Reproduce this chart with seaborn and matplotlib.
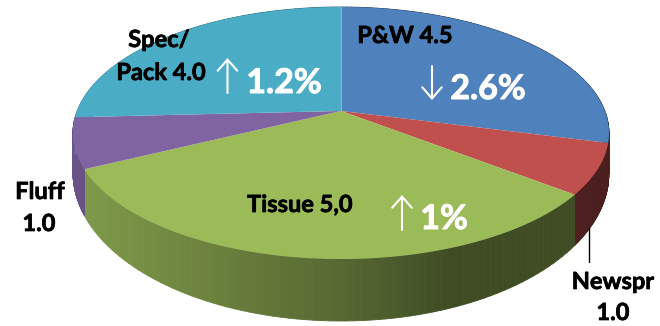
import numpy as np
import matplotlib
matplotlib.use("Agg")
import matplotlib.pyplot as plt
import matplotlib.patheffects as pe
import seaborn as sns
from matplotlib.collections import PolyCollection
from matplotlib.path import Path
from matplotlib.transforms import Affine2D, Transform

# Paper grades and their tonnage shares
grades = ["P&W", "Newspr", "Tissue", "Fluff", "Spec/Pack"]
tonnage = [4.5, 1.0, 5.0, 1.0, 4.0]
grade_colors = ["#4F81BD", "#C0504D", "#9BBB59", "#8064A2", "#4BACC6"]

# Labels: (text, centre x, baseline y)
black_labels = [
    ("Spec/", 159, 47),
    ("Pack 4.0", 161, 80),
    ("P&W 4.5", 405, 43),
    ("Tissue 5,0", 300, 212),
    ("Fluff", 40, 199),
    ("1.0", 39, 231),
    ("Newspr", 613, 289),
    ("1.0", 613, 320),
]
change_labels = [("1.2%", 284, 93), ("2.6%", 488, 99), ("1%", 444, 229)]
# Trend arrows: (x, tail y, tip y)
trend_arrows = [(227.5, 93, 58), (432, 66, 100), (402, 230, 195)]

# Geometry of the tilted disc, in pixels
CX, RX = 341, 268
TOP_CY, TOP_RY = 133, 126
BOTTOM_CY, BOTTOM_RY = 173, 148
TILT = 0.175
WALL_X = [70, 85, 340, 450, 570, 612]
WALL_SHADE = [0.84, 0.82, 0.56, 0.41, 0.41, 0.38]


def tilt(xy):
    """Projective map of the unit disc onto itself that shifts the centre upward."""
    x, y = xy[:, 0], xy[:, 1]
    d = 1 + TILT * y
    return np.column_stack((x * np.sqrt(1 - TILT ** 2) / d, (y + TILT) / d))


class TiltedDisc(Transform):
    input_dims = output_dims = 2

    def transform_non_affine(self, values):
        p = tilt(np.asarray(values, dtype=float))
        return np.column_stack((CX + RX * p[:, 0], TOP_CY - TOP_RY * p[:, 1]))

    def transform_path_non_affine(self, path):
        rings = path.to_polygons(Affine2D().scale(2000), closed_only=True)
        return Path(self.transform_non_affine(rings[0] / 2000), closed=True)


sns.set_theme(style="white")
plt.rcParams["font.family"] = ["Lato", "DejaVu Sans"]

fig = plt.figure(figsize=(6.6, 3.26), dpi=100, facecolor="white")
ax = fig.add_axes([0, 0, 1, 1])

wedges, _ = ax.pie(
    tonnage,
    colors=sns.color_palette(grade_colors),
    startangle=90,
    counterclock=False,
    wedgeprops={"linewidth": 0},
)

ax.set_aspect("auto")
ax.set_xlim(0, 660)
ax.set_ylim(326, 0)
ax.axis("off")

# Side wall, one narrow shaded strip per step along each wedge's outer arc
for wedge, color in zip(wedges, grade_colors):
    angles = np.radians(np.linspace(wedge.theta1, wedge.theta2, 80))
    rim = tilt(np.column_stack((np.cos(angles), np.sin(angles))))
    top_x, top_y = CX + RX * rim[:, 0], TOP_CY - TOP_RY * rim[:, 1]
    low_x, low_y = CX + RX * rim[:, 0], BOTTOM_CY - BOTTOM_RY * rim[:, 1]
    strips = [
        [(top_x[i], top_y[i]), (top_x[i + 1], top_y[i + 1]),
         (low_x[i + 1], low_y[i + 1]), (low_x[i], low_y[i])]
        for i in range(len(angles) - 1)
    ]
    base = np.array(matplotlib.colors.to_rgb(color))
    shade = np.interp((top_x[:-1] + top_x[1:]) / 2, WALL_X, WALL_SHADE)
    faces = np.outer(shade, base)
    ax.add_collection(PolyCollection(strips, facecolors=faces, edgecolors=faces,
                                     linewidths=0.6, zorder=1))

for wedge in wedges:
    wedge.set_transform(TiltedDisc() + ax.transData)
    wedge.set_zorder(2)

# Faint highlight along the seam where the first slice starts
seam = TiltedDisc().transform_non_affine(np.array([[0.0, 0.0], [0.0, 1.0]]))
ax.plot(seam[:, 0], seam[:, 1], color="#86B4D6", lw=0.8, zorder=3)

# Leader line for the newsprint label
ax.plot([589, 589], [228, 262], color="black", lw=1.0, zorder=3)

for text, x, y in black_labels:
    ax.text(x, y, text, ha="center", va="baseline", fontsize=17,
            fontweight="bold", color="black", zorder=4,
            path_effects=[pe.withStroke(linewidth=0.5, foreground="black")])
for text, x, y in change_labels:
    ax.text(x, y, text, ha="center", va="baseline", fontsize=24.5,
            fontweight="bold", color="white", zorder=4,
            path_effects=[pe.withStroke(linewidth=0.7, foreground="white")])
for x, tail, tip in trend_arrows:
    ax.annotate(
        "", xy=(x, tip), xytext=(x, tail), zorder=4,
        arrowprops=dict(arrowstyle="->,head_length=0.8,head_width=0.7",
                        color="white", lw=1.5, mutation_scale=10,
                        shrinkA=0, shrinkB=0),
    )

fig.savefig("out.png", dpi=100, facecolor="white")
